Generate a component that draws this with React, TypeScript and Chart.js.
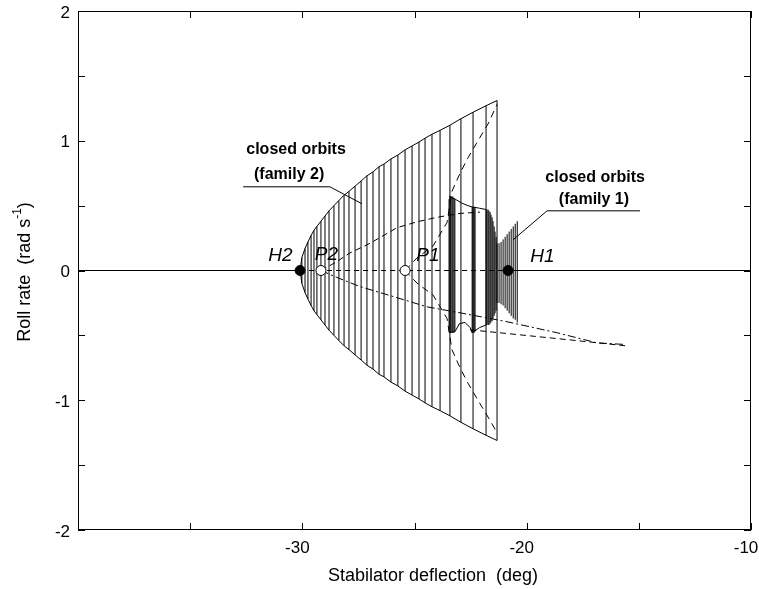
import { useEffect, useRef } from 'react';
import { Chart, registerables } from 'chart.js';

Chart.register(...registerables);

const FONT = '"Liberation Sans", Arial, sans-serif';

// Axis ranges and labelled ticks
const X_RANGE = [-40, -10];
const Y_RANGE = [-2, 2];
const xTickLabels = [-30, -20, -10];
const yTickLabels = [-2, -1, 0, 1, 2];

// Hopf points (stabilator deflection, deg)
const hopfNames = ['H2', 'H1'];
const hopfX = [-30.1, -20.83];
// Period-doubling / fold points on the equilibrium branch
const foldNames = ['P2', 'P1'];
const foldX = [-29.17, -25.42];

// Closed orbits, family 2: deflection, max and min roll rate (rad/s)
const fam2X = [
  -30.02, -29.88, -29.75, -29.61, -29.48, -29.35, -29.17, -28.99, -28.81, -28.59,
  -28.37, -28.14, -27.92, -27.65, -27.38, -27.12, -26.85, -26.58, -26.36, -26.05,
  -25.74, -25.42, -25.11, -24.8, -24.53, -24.22, -23.86, -23.42, -22.93, -22.39,
  -21.81, -21.32,
];
const fam2Max = [
  0.1, 0.17, 0.22, 0.27, 0.31, 0.34, 0.38, 0.42, 0.46, 0.5,
  0.54, 0.58, 0.61, 0.65, 0.69, 0.73, 0.76, 0.8, 0.82, 0.86,
  0.89, 0.93, 0.96, 0.99, 1.02, 1.05, 1.08, 1.12, 1.17, 1.22,
  1.27, 1.31,
];
const fam2Min = [
  -0.1, -0.17, -0.22, -0.27, -0.31, -0.34, -0.38, -0.42, -0.46, -0.5,
  -0.54, -0.58, -0.61, -0.65, -0.69, -0.73, -0.76, -0.8, -0.82, -0.86,
  -0.89, -0.93, -0.96, -0.99, -1.02, -1.05, -1.08, -1.12, -1.17, -1.22,
  -1.27, -1.31,
];

// Closed orbits, family 1
const fam1X = [
  -23.46, -23.42, -23.38, -23.33, -23.29, -23.24, -23.2,
  -22.43, -22.39, -22.34, -22.3,
  -21.81, -21.77, -21.72, -21.68, -21.63, -21.59, -21.54, -21.5, -21.45, -21.41, -21.36,
  -21.32, -21.23, -21.14, -21.05, -20.96, -20.87, -20.78, -20.69, -20.6, -20.51, -20.42,
];
const fam1Max = [
  0.55, 0.57, 0.57, 0.57, 0.57, 0.56, 0.55,
  0.49, 0.49, 0.49, 0.48,
  0.47, 0.47, 0.47, 0.46, 0.45, 0.43, 0.41, 0.38, 0.34, 0.3, 0.26,
  0.21, 0.21, 0.22, 0.24, 0.26, 0.28, 0.3, 0.32, 0.34, 0.36, 0.38,
];
const fam1Min = [
  -0.47, -0.48, -0.48, -0.48, -0.48, -0.48, -0.47,
  -0.48, -0.48, -0.48, -0.47,
  -0.42, -0.42, -0.42, -0.42, -0.41, -0.4, -0.39, -0.37, -0.35, -0.33, -0.31,
  -0.25, -0.25, -0.26, -0.27, -0.29, -0.31, -0.33, -0.35, -0.37, -0.38, -0.4,
];
// Outline of family 1 between the dense bands
const fam1TopX = [-23.46, -23.19, -22.9, -22.62, -22.43, -22.1, -21.81];
const fam1TopY = [0.57, 0.55, 0.52, 0.5, 0.49, 0.48, 0.47];
const fam1BotX = [-23.46, -23.19, -23.0, -22.75, -22.52, -22.43, -22.1, -21.81];
const fam1BotY = [-0.48, -0.47, -0.41, -0.4, -0.44, -0.48, -0.44, -0.42];

// Unstable orbit branches
const branchAX = [-29.17, -28.54, -27.88, -26.98, -25.78, -24.89, -23.99, -22.97, -22.08];
const branchAY = [0, 0.06, 0.135, 0.21, 0.33, 0.375, 0.41, 0.44, 0.45];
const branchBX = [-25.42, -24.89, -24.17, -23.55, -23.33, -22.97, -22.61, -22.17, -21.72, -21.32];
const branchBY = [0, 0.097, 0.19, 0.37, 0.61, 0.75, 0.87, 1.0, 1.13, 1.28];
const branchCX = [-25.42, -24.89, -24.17, -23.55, -23.33, -22.97, -22.61, -22.17, -21.72, -21.32];
const branchCY = [0, -0.097, -0.19, -0.37, -0.61, -0.75, -0.87, -1.0, -1.13, -1.25];
const branchDX = [-29.17, -28.45, -27.43, -25.96, -24.44, -22.97, -20.87, -18.64, -16.86, -15.61];
const branchDY = [0, -0.054, -0.124, -0.2, -0.28, -0.326, -0.395, -0.48, -0.558, -0.57];
const branchEX = [-22.52, -20.29, -18.06, -15.61];
const branchEY = [-0.457, -0.496, -0.535, -0.58];

type P = { x: number; y: number | null };

const curve = (xs: number[], ys: number[]): P[] => xs.map((x, i) => ({ x, y: ys[i] }));

// Vertical segments from min to max, separated by gaps
const verticals = (xs: number[], lo: number[], hi: number[]): P[] => {
  const pts: P[] = [];
  xs.forEach((x, i) => {
    pts.push({ x, y: lo[i] }, { x, y: hi[i] }, { x, y: null });
  });
  return pts;
};

const line = (data: P[], extra: Record<string, unknown> = {}) => ({
  data,
  showLine: true,
  pointRadius: 0,
  borderColor: '#000',
  borderWidth: 1,
  spanGaps: false,
  ...extra,
});

const annotations = {
  id: 'annotations',
  afterDraw(chart: any) {
    const { ctx, chartArea: a, scales } = chart;
    const xs = scales.x;
    const ys = scales.y;
    const px = (v: number) => xs.getPixelForValue(v);
    const py = (v: number) => ys.getPixelForValue(v);
    ctx.save();

    // frame
    ctx.strokeStyle = '#000';
    ctx.lineWidth = 1;
    ctx.strokeRect(a.left + 0.5, a.top + 0.5, a.right - a.left - 1, a.bottom - a.top - 1);

    // inward tick marks
    ctx.beginPath();
    xs.ticks.forEach((t: any) => {
      const x = Math.round(px(t.value)) + 0.5;
      ctx.moveTo(x, a.bottom);
      ctx.lineTo(x, a.bottom - 7);
      ctx.moveTo(x, a.top);
      ctx.lineTo(x, a.top + 7);
    });
    ys.ticks.forEach((t: any) => {
      const y = Math.round(py(t.value)) + 0.5;
      ctx.moveTo(a.left, y);
      ctx.lineTo(a.left + 7, y);
      ctx.moveTo(a.right, y);
      ctx.lineTo(a.right - 7, y);
    });
    ctx.stroke();

    // leader lines
    ctx.beginPath();
    ctx.moveTo(px(-32.64), py(0.645));
    ctx.lineTo(px(-28.77), py(0.645));
    ctx.lineTo(px(-27.34), py(0.514));
    ctx.moveTo(px(-20.61), py(0.236));
    ctx.lineTo(px(-19.09), py(0.46));
    ctx.lineTo(px(-14.95), py(0.46));
    ctx.stroke();

    ctx.fillStyle = '#000';
    ctx.textAlign = 'center';
    ctx.textBaseline = 'middle';

    // family labels
    ctx.font = `bold 16px ${FONT}`;
    ctx.fillText('closed orbits', px(-30.28), py(0.93));
    ctx.fillText('(family 2)', px(-30.59), py(0.738));
    ctx.fillText('closed orbits', px(-16.95), py(0.715));
    ctx.fillText('(family 1)', px(-17.0), py(0.55));

    // point labels
    ctx.font = `italic 19px ${FONT}`;
    ctx.fillText('H2', px(-30.98), py(0.113));
    ctx.fillText('P2', px(-28.93), py(0.12));
    ctx.fillText('P1', px(-24.4), py(0.113));
    ctx.fillText('H1', px(-19.3), py(0.105));

    // axis titles
    ctx.font = `18px ${FONT}`;
    ctx.fillText('Stabilator deflection  (deg)', 433, 576);

    ctx.translate(25, 272);
    ctx.rotate(-Math.PI / 2);
    const main = 'Roll rate  (rad s';
    const sup = '-1';
    const tail = ')';
    ctx.font = `18px ${FONT}`;
    const w1 = ctx.measureText(main).width;
    const w3 = ctx.measureText(tail).width;
    ctx.font = `12px ${FONT}`;
    const w2 = ctx.measureText(sup).width;
    let x0 = -(w1 + w2 + w3) / 2;
    ctx.textAlign = 'left';
    ctx.font = `18px ${FONT}`;
    ctx.fillText(main, x0, 0);
    x0 += w1;
    ctx.font = `12px ${FONT}`;
    ctx.fillText(sup, x0, -7);
    x0 += w2;
    ctx.font = `18px ${FONT}`;
    ctx.fillText(tail, x0, 0);

    ctx.restore();
  },
};

export default function App() {
  const ref = useRef<HTMLCanvasElement | null>(null);

  useEffect(() => {
    if (!ref.current) return;
    const hopfData = hopfX.map((x) => ({ x, y: 0 }));
    const foldData = foldX.map((x) => ({ x, y: 0 }));

    const chart = new Chart(ref.current, {
      type: 'scatter',
      data: {
        datasets: [
          {
            data: hopfData,
            pointRadius: 5,
            pointBackgroundColor: '#000',
            pointBorderColor: '#000',
            pointBorderWidth: 1,
            showLine: false,
          },
          {
            data: foldData,
            pointRadius: 5,
            pointBackgroundColor: '#fff',
            pointBorderColor: '#000',
            pointBorderWidth: 1,
            showLine: false,
          },
          line(curve(branchAX, branchAY), { borderDash: [6, 4] }),
          line(curve(branchBX, branchBY), { borderDash: [7, 5] }),
          line(curve(branchCX, branchCY), { borderDash: [7, 5] }),
          line(curve(branchDX, branchDY), { borderDash: [8, 3, 2, 3] }),
          line(curve(branchEX, branchEY), { borderDash: [6, 4] }),
          line(verticals(fam1X, fam1Min, fam1Max)),
          line(curve(fam1TopX, fam1TopY)),
          line(curve(fam1BotX, fam1BotY)),
          line(verticals(fam2X, fam2Min, fam2Max)),
          line([{ x: hopfX[0], y: 0 }, ...curve(fam2X, fam2Max)]),
          line([{ x: hopfX[0], y: 0 }, ...curve(fam2X, fam2Min)]),
          line([{ x: X_RANGE[0], y: 0 }, { x: hopfX[0], y: 0 }]),
          line([{ x: hopfX[0], y: 0 }, { x: hopfX[1], y: 0 }], { borderDash: [5, 4] }),
          line([{ x: hopfX[1], y: 0 }, { x: X_RANGE[1], y: 0 }]),
        ],
      },
      options: {
        responsive: false,
        animation: false,
        events: [],
        layout: { padding: { top: 11, right: 8, bottom: 0, left: 0 } },
        plugins: { legend: { display: false }, tooltip: { enabled: false } },
        scales: {
          x: {
            type: 'linear',
            min: X_RANGE[0],
            max: X_RANGE[1],
            grid: { display: false, drawTicks: false },
            border: { display: false },
            afterFit: (s: any) => {
              s.height = 59;
              s.paddingLeft = 0;
              s.paddingRight = 0;
            },
            ticks: {
              stepSize: 5,
              autoSkip: false,
              maxRotation: 0,
              padding: 8,
              labelOffset: -5,
              color: '#000',
              font: { family: FONT, size: 17 },
              callback: (v: any) => (xTickLabels.includes(Number(v)) ? String(v) : ''),
            },
          },
          y: {
            type: 'linear',
            min: Y_RANGE[0],
            max: Y_RANGE[1],
            grid: { display: false, drawTicks: false },
            border: { display: false },
            afterFit: (s: any) => {
              s.width = 78;
              s.paddingTop = 0;
              s.paddingBottom = 0;
            },
            ticks: {
              stepSize: 0.5,
              autoSkip: false,
              padding: 8,
              labelOffset: 2,
              color: '#000',
              font: { family: FONT, size: 17 },
              callback: (v: any) => (yTickLabels.includes(Number(v)) ? String(v) : ''),
            },
          },
        },
      },
      plugins: [annotations],
    });
    return () => chart.destroy();
  }, []);

  return (
    <div style={{ position: 'absolute', left: 0, top: 0, width: 759, height: 589, background: '#fff' }}>
      <canvas ref={ref} width={759} height={589} />
    </div>
  );
}
